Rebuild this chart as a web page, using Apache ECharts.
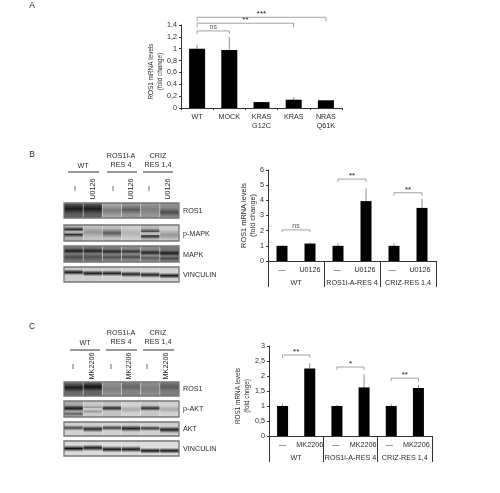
<!DOCTYPE html>
<html><head><meta charset="utf-8">
<style>html,body{margin:0;padding:0;background:#fff}#main{width:500px;height:493px;filter:blur(0.45px)}</style>
<script src="https://cdn.jsdelivr.net/npm/echarts@6/dist/echarts.min.js"></script>
</head><body><div id="main"></div>
<script>
const FONT='"Liberation Sans",Arial,sans-serif';
// ---- chart data ----
const categoriesA=['WT','MOCK','KRAS\nG12C','KRAS','NRAS\nQ61K'];
const valuesA=[1,0.98,0.1,0.14,0.13];
const errorsA=[0.07,0.22,0,0.04,0];
const bracketsA=[[-0.03,1,1.30,3,'ns'],[-0.03,2.95,1.43,4,'**'],[-0.03,4.1,1.53,4,'***']];

const subCategoriesB=['—','U0126','— ','U0126 ','—  ','U0126  '];
const groupsB=['WT','ROS1i-A-RES 4','CRIZ-RES 1,4'];
const valuesB=[1,1.15,1,3.95,1,3.5];
const errorsB=[0.03,0.07,0.18,0.85,0.18,0.6];
const bracketsB=[[-0.02,1,2.05,2,'ns'],[1.95,3,5.4,3,'**'],[3.95,5,4.5,3,'**']];

const subCategoriesC=['—','MK2206','— ','MK2206 ','—  ','MK2206  '];
const groupsC=['WT','ROS1i-A-RES 4','CRIZ-RES 1,4'];
const valuesC=[1,2.25,1,1.62,1,1.6];
const errorsC=[0.07,0.17,0.03,0.43,0.07,0.1];
const bracketsC=[[-0.1,1,2.7,3,'**'],[1.9,3,2.3,3,'*'],[3.95,5,1.93,3,'**']];

// ---- western-blot panels: per lane [background grey, [centre, half width, grey]...] ----
const blotB=[
 {name:'ROS1',top:203,h:15,lanes:[[95,[.38,.36,25]],[95,[.38,.36,28]],[165,[.5,.36,122]],[150,[.45,.32,90]],[150,[.45,.36,125]],[140,[.62,.32,78]]]},
 {name:'p-MAPK',top:225,h:16,lanes:[[175,[.3,.2,35],[.58,.2,38]],[195,[.45,.34,150]],[190,[.5,.3,88]],[205,[.5,.36,178]],[185,[.4,.2,70],[.68,.2,35]],[205,[.62,.34,150]]]},
 {name:'MAPK',top:246,h:16,lanes:[[115,[.32,.2,28],[.68,.22,75]],[115,[.32,.2,32],[.68,.22,80]],[125,[.35,.2,45],[.7,.18,80]],[135,[.35,.18,55],[.68,.18,75]],[135,[.42,.2,40],[.75,.16,90]],[120,[.45,.2,28],[.78,.16,75]]]},
 {name:'VINCULIN',top:267,h:15,lanes:[[205,[.35,.2,22]],[205,[.42,.2,26]],[208,[.42,.2,30]],[208,[.48,.2,32]],[210,[.52,.2,30]],[210,[.58,.2,26]]]}
];
const blotC=[
 {name:'ROS1',top:382,h:14,lanes:[[105,[.4,.32,25]],[100,[.35,.32,18]],[145,[.5,.36,125]],[130,[.35,.32,100]],[140,[.5,.36,125]],[125,[.35,.32,90]]]},
 {name:'p-AKT',top:401,h:16,lanes:[[170,[.45,.2,20],[.8,.14,95]],[200,[.42,.16,150],[.62,.16,140]],[195,[.45,.18,40]],[210,[.52,.24,170]],[200,[.45,.18,45]],[210,[.52,.24,170]]]},
 {name:'AKT',top:422,h:14,lanes:[[210,[.42,.2,72]],[205,[.5,.24,40]],[210,[.42,.2,62]],[205,[.46,.24,35]],[210,[.45,.2,62]],[205,[.55,.24,30]]]},
 {name:'VINCULIN',top:441,h:15,lanes:[[218,[.5,.22,20]],[218,[.46,.22,24]],[218,[.55,.22,28]],[218,[.55,.22,28]],[222,[.65,.2,24]],[222,[.65,.2,24]]]}
];

// ---- helpers ----
const TEXT='#2a2a2a', AXIS='#333', GREY='#8c8c8c';
const FS=7.2;
const comma=v=>String(v).replace('.',',');
const grey=g=>`rgb(${g},${g},${g})`;

function barPanel(idx,v,e,br,barW){
  return [
   {type:'bar',xAxisIndex:idx.x,yAxisIndex:idx.y,data:v,barWidth:barW,itemStyle:{color:'#000'},silent:true},
   {type:'custom',xAxisIndex:idx.x,yAxisIndex:idx.y,clip:false,silent:true,z:1,
    encode:{x:0,y:1},data:v.map((d,i)=>[i,d,e[i]]),
    renderItem:(p,api)=>{
      const a=api.coord([api.value(0),api.value(1)]),b=api.coord([api.value(0),api.value(1)+api.value(2)]);
      return {type:'line',shape:{x1:a[0],y1:a[1],x2:b[0],y2:b[1]},style:{stroke:GREY,lineWidth:1}};
    }},
   {type:'custom',xAxisIndex:idx.x,yAxisIndex:idx.y,clip:false,silent:true,z:3,
    encode:{y:3},dimensions:['x1','x2','d','y','t'],
    data:br.map(b=>[b[0],b[1],b[3],b[2],b[4]]),
    renderItem:(p,api)=>{
      const b=br[p.dataIndex];
      const l=api.coord([b[0],b[2]]),r=api.coord([b[1],b[2]]),d=b[3];
      return {type:'group',children:[
       {type:'polyline',shape:{points:[[l[0],l[1]+d],[l[0],l[1]],[r[0],r[1]],[r[0],r[1]+d]]},style:{fill:'none',stroke:GREY,lineWidth:0.8}},
       {type:'text',style:{x:(l[0]+r[0])/2,y:b[4]==='ns'?l[1]-4:l[1]-3,text:b[4],fill:b[4]==='ns'?'#555':'#111',font:`${b[4]==='ns'?7:8}px ${FONT}`,align:'center',verticalAlign:'middle'}}
      ]};
    }}
  ];
}
const yAxis=(gi,max,interval,gap,name,size,shift)=>({type:'value',gridIndex:gi,min:0,max,interval,
  name,nameLocation:'middle',nameGap:gap,nameMoveOverlap:false,
  nameTextStyle:{color:TEXT,fontSize:size,fontFamily:FONT,lineHeight:9,padding:[0,shift,0,0]},
  splitLine:{show:false},axisLine:{show:true,lineStyle:{color:AXIS,width:1}},
  axisTick:{show:true,length:2,lineStyle:{color:AXIS}},
  axisLabel:{color:TEXT,fontSize:FS,fontFamily:FONT,margin:4,formatter:comma}});
const subAxis=(gi,data)=>({type:'category',gridIndex:gi,data,
  axisLine:{show:true,onZero:false,lineStyle:{color:AXIS}},
  axisTick:{show:true,length:26,interval:i=>i%2===0,lineStyle:{color:AXIS}},
  axisLabel:{color:TEXT,fontSize:FS,fontFamily:FONT,margin:6,interval:0,hideOverlap:false}});
const groupAxis=(gi,data)=>({type:'category',gridIndex:gi,data,position:'bottom',offset:13,
  axisLine:{show:false},axisTick:{show:false},
  axisLabel:{color:TEXT,fontSize:FS,fontFamily:FONT,margin:6,interval:0,hideOverlap:false}});

function txt(x,y,text,o={}){
  return {type:'text',silent:true,z:10,x,y,rotation:o.rot||0,
    style:{text,fill:TEXT,font:`${o.size||FS}px ${FONT}`,align:o.align||'center',verticalAlign:'middle',lineHeight:9}};
}
function blotGraphics(blots,x0,x1){
  const out=[];const w=(x1-x0)/6;
  blots.forEach(b=>{
    b.lanes.forEach((lane,i)=>{
      const bg=lane[0];const stops=[[0,bg]];
      lane.slice(1).forEach(([c,hw,g])=>{stops.push([Math.max(0.01,c-hw),bg],[c,g],[Math.min(.99,c+hw),bg]);});
      stops.push([1,bg]);stops.sort((p,q)=>p[0]-q[0]);
      out.push({type:'rect',silent:true,shape:{x:x0+i*w,y:b.top,width:w,height:b.h},
        style:{fill:{type:'linear',x:0,y:0,x2:0,y2:1,colorStops:stops.map(s=>({offset:s[0],color:grey(s[1])}))}}});
      if(i>0) out.push({type:'line',silent:true,z:2,shape:{x1:x0+i*w,y1:b.top,x2:x0+i*w,y2:b.top+b.h},style:{stroke:'rgba(225,225,225,.5)',lineWidth:1}});
    });
    out.push({type:'rect',silent:true,z:3,shape:{x:x0,y:b.top,width:x1-x0,height:b.h},style:{fill:'none',stroke:'#777',lineWidth:1.3}});
  });
  return out;
}
const underline=(a,b,y)=>({type:'line',silent:true,shape:{x1:a,y1:y,x2:b,y2:y},style:{stroke:'#333',lineWidth:1}});

const graphic=[
 txt(32,6,'A',{size:8.5}),txt(32,155,'B',{size:8.5}),txt(32,327,'C',{size:8.5}),
 ...blotGraphics(blotB,64,179),...blotGraphics(blotC,64,179),
 // B headers
 txt(83,166,'WT'),txt(121,161,'ROS1i-A\nRES 4'),txt(158,161,'CRIZ\nRES 1,4'),
 underline(68,99,172),underline(107,137,172),underline(143,173,172),
 ...[75,113,149].map(x=>txt(x,189,'I')),
 ...[93,131,168].map(x=>txt(x,189,'U0126',{rot:Math.PI/2})),
 ...blotB.map((b,i)=>txt(183,[211,234,255,275][i],b.name,{align:'left'})),
 // C headers
 txt(85,343,'WT'),txt(121,338,'ROS1i-A\nRES 4'),txt(158,338,'CRIZ\nRES 1,4'),
 underline(70,100,350),underline(106,137,350),underline(143,174,350),
 ...[73,111,147].map(x=>txt(x,367,'I')),
 ...[92,129,166].map(x=>txt(x,366,'MK2206',{rot:Math.PI/2})),
 ...blotC.map((b,i)=>txt(183,[389,409,429,449][i],b.name,{align:'left'}))
];

const chart=echarts.init(document.getElementById('main'),null,{width:500,height:493});
chart.setOption({
 animation:false,backgroundColor:'#fff',textStyle:{fontFamily:FONT},
 grid:[
  {left:181,top:25,width:161,height:83},
  {left:268,top:170,width:168,height:91},
  {left:269,top:346,width:163,height:90}
 ],
 xAxis:[
  {type:'category',gridIndex:0,data:categoriesA,axisLine:{show:true,lineStyle:{color:AXIS}},
   axisTick:{show:true,length:2,lineStyle:{color:AXIS}},
   axisLabel:{color:TEXT,fontSize:FS,fontFamily:FONT,margin:5,lineHeight:9,interval:0}},
  subAxis(1,subCategoriesB),groupAxis(1,groupsB),
  subAxis(2,subCategoriesC),groupAxis(2,groupsC)
 ],
 yAxis:[
  yAxis(0,1.4,0.2,16,'ROS1 mRNA levels\n(fold change)',6.4,10),
  yAxis(1,6,1,11,'ROS1 mRNA levels\n(fold change)',7.4,0),
  yAxis(2,3,0.5,17,'ROS1 mRNA levels\n(fold chnge)',6.4,10)
 ],
 series:[
  ...barPanel({x:0,y:0},valuesA,errorsA,bracketsA,16),
  ...barPanel({x:1,y:1},valuesB,errorsB,bracketsB,11),
  ...barPanel({x:3,y:2},valuesC,errorsC,bracketsC,11)
 ],
 graphic
});
</script></body></html>
